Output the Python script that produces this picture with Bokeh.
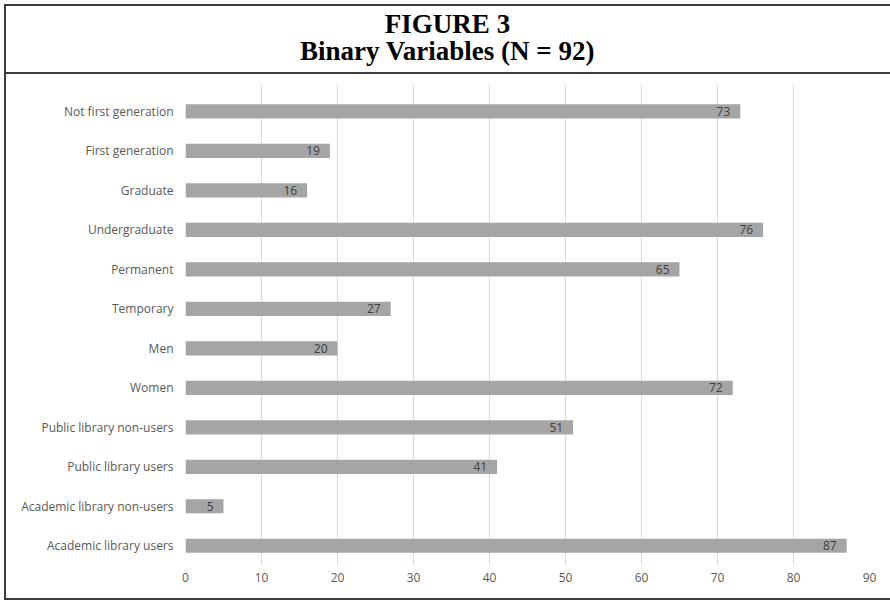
from bokeh.plotting import figure
from bokeh.layouts import column
from bokeh.models import Range1d, FixedTicker, Label, ColumnDataSource, LabelSet
from bokeh.core.properties import value
from bokeh.embed import file_html
from bokeh.resources import INLINE

# Data (top to bottom as shown)
categories = [
    "Not first generation", "First generation", "Graduate", "Undergraduate",
    "Permanent", "Temporary", "Men", "Women",
    "Public library non-users", "Public library users",
    "Academic library non-users", "Academic library users",
]
values = [73, 19, 16, 76, 65, 27, 20, 72, 51, 41, 5, 87]
x_ticks = [0, 10, 20, 30, 40, 50, 60, 70, 80, 90]
title_line1 = "FIGURE 3"
title_line2 = "Binary Variables (N = 92)"

n = len(categories)
pos = [n - 1 - i for i in range(n)]  # top category at highest position

src = ColumnDataSource(dict(cat=categories, val=values, pos=pos,
                            lab=[str(v) for v in values]))

W = 884
BL, BR = 179, 21   # left/right borders shared by both figures (frames align)

# ---- Title figure (ranges expressed in canvas pixels) ----
TH = 68
tf = figure(width=W, height=TH, output_backend="svg", toolbar_location=None,
            x_range=Range1d(BL, W - BR), y_range=Range1d(0, TH),
            x_axis_location=None, y_axis_location=None,
            min_border_left=BL, min_border_right=BR,
            min_border_top=0, min_border_bottom=0)
tf.grid.visible = False
tf.outline_line_color = None
tf.styles = {"border-bottom": "2px solid #3a3a3a"}
for txt, yy in [(title_line1, TH - 17.5), (title_line2, TH - 44)]:
    tf.add_layout(Label(x=441, y=yy, text=txt, text_align="center",
                        text_baseline="middle", text_font="Liberation Serif",
                        text_font_style="bold", text_font_size="27px",
                        text_color="#000000"))

# ---- Chart figure ----
p = figure(width=W, height=524, output_backend="svg", toolbar_location=None,
           x_range=Range1d(0, 90), y_range=Range1d(-0.5, n - 0.5 + 0.18),
           min_border_left=BL, min_border_right=BR, min_border_top=10,
           min_border_bottom=33)
p.outline_line_color = None
p.hbar(y="pos", right="val", left=0, height=0.36, source=src,
       fill_color="#a5a5a5", line_color=None)
p.add_layout(LabelSet(x="val", y="pos", text="lab", source=src,
                      text_align="right", text_baseline="middle",
                      x_offset=-10, text_font=value("Open Sans"),
                      text_font_size=value("12px"), text_color="#404040"))

p.xaxis.ticker = FixedTicker(ticks=x_ticks)
p.yaxis.ticker = FixedTicker(ticks=pos)
p.yaxis.major_label_overrides = {pp: c for pp, c in zip(pos, categories)}
for ax in (p.xaxis[0], p.yaxis[0]):
    ax.axis_line_color = None
    ax.major_tick_line_color = None
    ax.minor_tick_line_color = None
    ax.major_tick_out = 0
    ax.major_tick_in = 0
    ax.minor_tick_out = 0
    ax.minor_tick_in = 0
    ax.major_label_text_font = "Open Sans"
    ax.major_label_text_font_size = "12px"
    ax.major_label_text_color = "#595959"
p.yaxis.major_label_standoff = 12
p.xaxis.major_label_standoff = 7
p.ygrid.visible = False
p.xgrid.grid_line_color = "#d9d9d9"
p.xgrid.grid_line_width = 1

root = column(tf, p, spacing=0)
root.styles = {"border": "2px solid #3a3a3a", "border-right": "none",
               "margin-left": "4px", "margin-top": "4px"}

open("out.html", "w").write(file_html(root, INLINE))
